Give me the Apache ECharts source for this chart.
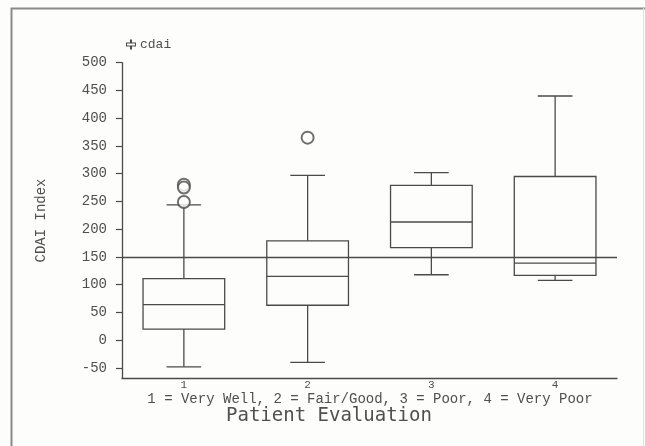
<!DOCTYPE html>
<html>
<head>
<meta charset="utf-8">
<script src="https://cdn.jsdelivr.net/npm/echarts@6/dist/echarts.min.js"></script>
<style>html,body{margin:0;padding:0;background:#fdfdfc;}#c{width:645px;height:446px;}</style>
</head>
<body>
<div id="c"></div>
<script>
var categories = ['1', '2', '3', '4'];
// [min whisker, Q1, median, Q3, max whisker]
var boxStats = [
  [-48, 20, 64, 111, 244],
  [-40, 63, 115, 179, 297],
  [118, 167, 213, 279, 302],
  [108, 117, 139, 295, 440]
];
var outliers = [[0, 280], [0, 275], [0, 249], [1, 365]];
var refValue = 150;
var yTicks = [-50, 0, 50, 100, 150, 200, 250, 300, 350, 400, 450, 500];
var yMin = -68.6, yMax = 500;
var categoryKey = '1 = Very Well, 2 = Fair/Good, 3 = Poor, 4 = Very Poor';

var ink = '#4a4a4a';
var txt = '#4f4f4f';
var mono = '"Liberation Mono", "DejaVu Sans Mono", monospace';

var boxData = boxStats.map(function (s, i) { return [i].concat(s); });

var chart = echarts.init(document.getElementById('c'), null, {renderer: 'canvas'});
chart.setOption({
  backgroundColor: '#fdfdfc',
  animation: false,
  grid: {left: 122, right: 28, top: 62.7, bottom: 67.7},
  title: [
    {
      text: categoryKey,
      left: 370, top: 392, textAlign: 'center', padding: 0,
      textStyle: {fontFamily: mono, fontSize: 14, fontWeight: 'normal', color: txt}
    },
    {
      text: 'Patient Evaluation',
      left: 226, top: 407, padding: 0,
      textStyle: {fontFamily: '"DejaVu Sans Mono", monospace', fontSize: 19, fontWeight: 'normal', color: txt}
    }
  ],
  legend: {
    left: 121, top: 33,
    itemWidth: 10, itemHeight: 12, itemGap: 6,
    data: [{name: 'cdai', icon: 'path://M4,0H6V3H10V7H6V10H4V7H0V3H4ZM1,4V6H9V4Z'}],
    itemStyle: {color: ink},
    textStyle: {fontFamily: mono, fontSize: 13, color: txt, padding: [0, 0, 0, -1]}
  },
  xAxis: {
    type: 'category',
    data: categories,
    boundaryGap: true,
    axisLine: {onZero: false, lineStyle: {color: ink, width: 1.3}},
    axisTick: {show: false},
    axisLabel: {margin: 1, fontFamily: mono, fontSize: 11, color: txt},
    splitLine: {show: false}
  },
  yAxis: {
    type: 'value',
    min: yMin, max: yMax,
    name: 'CDAI Index',
    nameLocation: 'middle',
    nameGap: 74,
    nameRotate: 90,
    nameTextStyle: {fontFamily: mono, fontSize: 14, color: txt},
    axisLine: {show: true, lineStyle: {color: ink, width: 1.3}},
    axisTick: {show: true, length: 6, customValues: yTicks, lineStyle: {color: ink, width: 1.2}},
    axisLabel: {margin: 15, customValues: yTicks, fontFamily: mono, fontSize: 14, color: txt},
    splitLine: {show: false}
  },
  series: [
    {
      name: 'cdai',
      type: 'custom',
      data: boxData,
      encode: {x: 0, y: [1, 2, 3, 4, 5]},
      renderItem: function (params, api) {
        var idx = api.value(0);
        var band = api.size([1, 0])[0];
        var hw = band * 0.33, cw = band * 0.14;
        var pMin = api.coord([idx, api.value(1)]);
        var pQ1 = api.coord([idx, api.value(2)]);
        var pMed = api.coord([idx, api.value(3)]);
        var pQ3 = api.coord([idx, api.value(4)]);
        var pMax = api.coord([idx, api.value(5)]);
        var x = pMed[0];
        var st = {stroke: ink, lineWidth: 1.3, fill: null};
        return {
          type: 'group',
          children: [
            {type: 'rect', shape: {x: x - hw, y: pQ3[1], width: 2 * hw, height: pQ1[1] - pQ3[1]}, style: st},
            {type: 'line', shape: {x1: x - hw, y1: pMed[1], x2: x + hw, y2: pMed[1]}, style: st},
            {type: 'line', shape: {x1: x, y1: pQ3[1], x2: x, y2: pMax[1]}, style: st},
            {type: 'line', shape: {x1: x, y1: pQ1[1], x2: x, y2: pMin[1]}, style: st},
            {type: 'line', shape: {x1: x - cw, y1: pMax[1], x2: x + cw, y2: pMax[1]}, style: st},
            {type: 'line', shape: {x1: x - cw, y1: pMin[1], x2: x + cw, y2: pMin[1]}, style: st}
          ]
        };
      }
    },
    {
      name: 'outliers',
      type: 'scatter',
      data: outliers,
      symbol: 'emptyCircle',
      symbolSize: 12,
      itemStyle: {color: ink, borderColor: ink, borderWidth: 1.3},
      markLine: {
        silent: true,
        symbol: ['none', 'none'],
        label: {show: false},
        lineStyle: {color: ink, width: 1.3, type: 'solid'},
        data: [{yAxis: refValue}]
      }
    }
  ],
  graphic: [
    {type: 'polyline', shape: {points: [[11.5, 446], [11.5, 8.5], [645, 8.5]]}, style: {stroke: '#8a8a8a', lineWidth: 2, fill: null}, silent: true},
    {type: 'line', shape: {x1: 643.5, y1: 8, x2: 643.5, y2: 446}, style: {stroke: '#e2e2e2', lineWidth: 1}, silent: true}
  ]
});
</script>
</body>
</html>
